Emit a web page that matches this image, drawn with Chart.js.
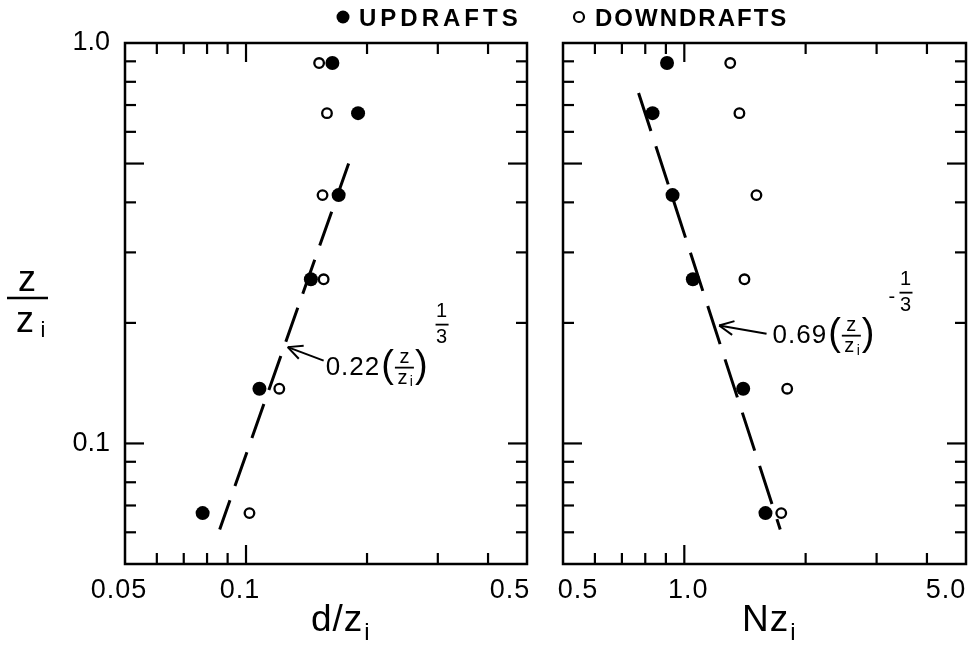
<!DOCTYPE html>
<html>
<head>
<meta charset="utf-8">
<script src="https://cdn.jsdelivr.net/npm/chart.js@4.4.1/dist/chart.umd.min.js"></script>
<style>
  html, body { margin: 0; padding: 0; background: #fff; }
  #wrap { position: relative; width: 975px; height: 650px; }
  canvas { position: absolute; left: 0; top: 0; }
</style>
</head>
<body>
<div id="wrap">
  <canvas id="left" width="975" height="650"></canvas>
  <canvas id="right" width="975" height="650"></canvas>
</div>
<script>
// heights z/zi of the six levels
const zLevels = [0.891, 0.668, 0.417, 0.257, 0.137, 0.067];

// d/zi (left panel)
const updraftD = [0.164, 0.190, 0.170, 0.145, 0.108, 0.078];
const downdraftD = [0.152, 0.159, 0.155, 0.156, 0.121, 0.102];

// N zi (right panel)
const updraftN = [0.906, 0.834, 0.935, 1.05, 1.40, 1.59];
const downdraftN = [1.30, 1.37, 1.51, 1.41, 1.80, 1.74];

// fitted lines, end points (top end first)
const fitDz = [0.50, 0.061];
const fitD = [0.180, 0.086];
const fitNz = [0.75, 0.061];
const fitN = [0.77, 1.73];

// ticks
const zTicks = [0.05, 0.06, 0.07, 0.08, 0.09, 0.1, 0.2, 0.3, 0.4, 0.5, 0.6, 0.7, 0.8, 0.9, 1.0];
const zTickLabels = ['', '', '', '', '', '0.1', '', '', '', '', '', '', '', '', '1.0'];
const dTicks = [0.05, 0.06, 0.07, 0.08, 0.09, 0.1, 0.2, 0.3, 0.4, 0.5];
const dTickLabels = ['0.05', '', '', '', '', '0.1', '', '', '', '0.5'];
const nTicks = [0.5, 0.6, 0.7, 0.8, 0.9, 1, 2, 3, 4, 5];
const nTickLabels = ['0.5', '', '', '', '', '1.0', '', '', '', '5.0'];

const F = '"Liberation Sans", Arial, sans-serif';

function seg(ctx, x1, y1, x2, y2) {
  ctx.beginPath();
  ctx.moveTo(x1, y1);
  ctx.lineTo(x2, y2);
  ctx.stroke();
}

// box, inward ticks on all four sides, x tick labels
const frameTicks = {
  id: 'frameTicks',
  afterDraw(chart, args, o) {
    const { ctx, chartArea: a, scales: { x, y } } = chart;
    ctx.save();
    ctx.strokeStyle = '#000';
    ctx.lineWidth = 2.5;
    ctx.strokeRect(a.left, a.top, a.right - a.left, a.bottom - a.top);
    ctx.lineWidth = 2.2;
    x.ticks.forEach(t => {
      if (t.value <= x.min || t.value >= x.max) return;
      const px = x.getPixelForValue(t.value);
      const len = o.xLong.includes(t.value) ? 19 : 11;
      seg(ctx, px, a.bottom, px, a.bottom - len);
      seg(ctx, px, a.top, px, a.top + len);
    });
    y.ticks.forEach(t => {
      if (t.value <= y.min || t.value >= y.max) return;
      const py = y.getPixelForValue(t.value);
      const len = o.yLong.includes(t.value) ? 19 : 11;
      seg(ctx, a.left, py, a.left + len, py);
      seg(ctx, a.right, py, a.right - len, py);
    });
    ctx.fillStyle = '#000';
    ctx.font = '27px ' + F;
    ctx.letterSpacing = '1px';
    ctx.textBaseline = 'top';
    x.ticks.forEach((t, i) => {
      const txt = o.labels[i];
      if (!txt) return;
      const px = x.getPixelForValue(t.value);
      const sh = o.shift[txt] || 0;
      ctx.textAlign = 'center';
      ctx.fillText(txt, px + sh, a.bottom + 13);
    });
    ctx.restore();
  }
};

// arrow + power law label
const formulaNote = {
  id: 'formulaNote',
  afterDraw(chart, args, o) {
    const { ctx, scales: { x, y } } = chart;
    const tx = x.getPixelForValue(o.tip[0]), ty = y.getPixelForValue(o.tip[1]);
    const sx = x.getPixelForValue(o.tail[0]), sy = y.getPixelForValue(o.tail[1]);
    ctx.save();
    ctx.strokeStyle = '#000';
    ctx.fillStyle = '#000';
    ctx.lineWidth = 2;
    seg(ctx, sx, sy, tx, ty);
    const ang = Math.atan2(ty - sy, tx - sx);
    [-0.45, 0.45].forEach(d => {
      seg(ctx, tx, ty, tx - 16 * Math.cos(ang + d), ty - 16 * Math.sin(ang + d));
    });

    let cx = sx + o.dx, cy = sy + o.dy;
    ctx.textBaseline = 'middle';
    ctx.textAlign = 'left';
    ctx.font = '26px ' + F;
    ctx.letterSpacing = '1px';
    ctx.fillText(o.coef, cx, cy);
    cx += ctx.measureText(o.coef).width + 1;
    ctx.letterSpacing = '0px';
    ctx.font = '38px ' + F;
    ctx.fillText('(', cx, cy - 1);
    cx += ctx.measureText('(').width + 1;
    // z over zi
    const fw = 19, fc = cx + fw / 2;
    ctx.textAlign = 'center';
    ctx.font = '20px ' + F;
    ctx.fillText('z', fc, cy - 10);
    ctx.lineWidth = 1.8;
    seg(ctx, cx, cy, cx + fw, cy);
    ctx.fillText('z', fc - 2, cy + 11);
    ctx.font = '14px ' + F;
    ctx.fillText('i', fc + 7, cy + 15);
    cx += fw + 1;
    ctx.textAlign = 'left';
    ctx.font = '38px ' + F;
    ctx.fillText(')', cx, cy - 1);
    cx += ctx.measureText(')').width + o.gap;
    // exponent
    ctx.font = '20px ' + F;
    if (o.neg) {
      ctx.fillText('-', cx, cy - 38);
      cx += 11;
    }
    ctx.textAlign = 'center';
    ctx.fillText('1', cx + 6, cy - 56);
    ctx.lineWidth = 1.8;
    seg(ctx, cx, cy - 43, cx + 13, cy - 43);
    ctx.fillText('3', cx + 6, cy - 30);
    ctx.restore();
  }
};

// legend and axis titles
const textLayer = {
  id: 'textLayer',
  afterDraw(chart, args, o) {
    const ctx = chart.ctx;
    ctx.save();
    ctx.fillStyle = '#000';
    ctx.strokeStyle = '#000';
    ctx.textBaseline = 'alphabetic';
    ctx.textAlign = 'left';
    if (o.legend) {
      ctx.font = 'bold 24px ' + F;
      ctx.letterSpacing = '4px';
      ctx.beginPath();
      ctx.arc(343, 17, 6.5, 0, Math.PI * 2);
      ctx.fill();
      ctx.fillText('UPDRAFTS', 359, 26);
      ctx.letterSpacing = '2px';
      ctx.lineWidth = 2.2;
      ctx.beginPath();
      ctx.arc(579, 17, 5, 0, Math.PI * 2);
      ctx.stroke();
      ctx.fillText('DOWNDRAFTS', 595, 26);
      ctx.letterSpacing = '0px';
    }
    if (o.yTitle) {
      ctx.textAlign = 'center';
      ctx.font = '36px ' + F;
      ctx.fillText('z', 27, 291);
      ctx.lineWidth = 2.5;
      seg(ctx, 7, 298, 48, 298);
      ctx.fillText('z', 25, 332);
      ctx.font = '22px ' + F;
      ctx.fillText('i', 43, 337);
    }
    if (o.xTitle) {
      ctx.textAlign = 'left';
      ctx.font = '37px ' + F;
      ctx.letterSpacing = '1px';
      ctx.fillText(o.xTitle, o.xAt, 631);
      const w = ctx.measureText(o.xTitle).width;
      ctx.font = '24px ' + F;
      ctx.fillText('i', o.xAt + w + 1, 640);
    }
    ctx.restore();
  }
};

function logAxis(min, max, ticks, extra) {
  return Object.assign({
    type: 'logarithmic',
    min: min,
    max: max,
    afterBuildTicks: s => { s.ticks = ticks.map(v => ({ value: v })); },
    grid: { display: false },
    border: { display: false }
  }, extra);
}

function panel(id, upX, downX, fitX, fitZ, xTicks, xMin, xMax, opts) {
  return new Chart(document.getElementById(id), {
    type: 'scatter',
    data: {
      datasets: [
        {
          label: 'UPDRAFTS',
          data: zLevels.map((z, i) => ({ x: upX[i], y: z })),
          backgroundColor: '#000',
          borderColor: '#000',
          pointRadius: 7,
          borderWidth: 0
        },
        {
          label: 'DOWNDRAFTS',
          data: zLevels.map((z, i) => ({ x: downX[i], y: z })),
          backgroundColor: '#fff',
          borderColor: '#000',
          pointRadius: 4.8,
          borderWidth: 2.3
        },
        {
          label: 'fit',
          data: fitZ.map((z, i) => ({ x: fitX[i], y: z })),
          showLine: true,
          borderColor: '#000',
          borderWidth: 3,
          borderDash: opts.dash,
          pointRadius: 0,
          fill: false
        }
      ]
    },
    options: {
      responsive: false,
      animation: false,
      events: [],
      layout: { padding: opts.padding },
      plugins: {
        legend: { display: false },
        tooltip: { enabled: false },
        frameTicks: opts.frame,
        formulaNote: opts.note,
        textLayer: opts.text
      },
      scales: {
        x: logAxis(xMin, xMax, xTicks, {
          afterFit: s => { s.height = 86; },
          ticks: { display: false }
        }),
        y: logAxis(0.05, 1.0, zTicks, {
          afterFit: s => { s.width = opts.yWidth; },
          ticks: {
            display: opts.yLabels,
            autoSkip: false,
            padding: 7,
            color: '#000',
            font: { family: F, size: 27 },
            callback: (v, i) => zTickLabels[i]
          }
        })
      }
    },
    plugins: [frameTicks, formulaNote, textLayer]
  });
}

panel('left', updraftD, downdraftD, fitD, fitDz, dTicks, 0.05, 0.5, {
  padding: { left: 0, right: 448, top: 43, bottom: 0 },
  yWidth: 125,
  yLabels: true,
  dash: [36, 15],
  frame: { xLong: [0.1], yLong: [0.1, 0.5], labels: dTickLabels, shift: { '0.05': -6, '0.1': -6, '0.5': -17 } },
  note: { tip: [0.127, 0.174], tail: [0.156, 0.161], dx: 2, dy: 7, coef: '0.22', neg: false, gap: 8 },
  text: { legend: true, yTitle: true, xTitle: 'd/z', xAt: 311 }
});

panel('right', updraftN, downdraftN, fitN, fitNz, nTicks, 0.5, 5, {
  padding: { left: 0, right: 9, top: 43, bottom: 0 },
  yWidth: 563,
  yLabels: false,
  dash: [40, 16],
  frame: { xLong: [1], yLong: [0.1, 0.5], labels: nTickLabels, shift: { '0.5': 15, '1.0': 4, '5.0': -20 } },
  note: { tip: [1.22, 0.197], tail: [1.60, 0.188], dx: 6, dy: 2, coef: '0.69', neg: true, gap: 14 },
  text: { legend: false, yTitle: false, xTitle: 'Nz', xAt: 742 }
});
</script>
</body>
</html>
